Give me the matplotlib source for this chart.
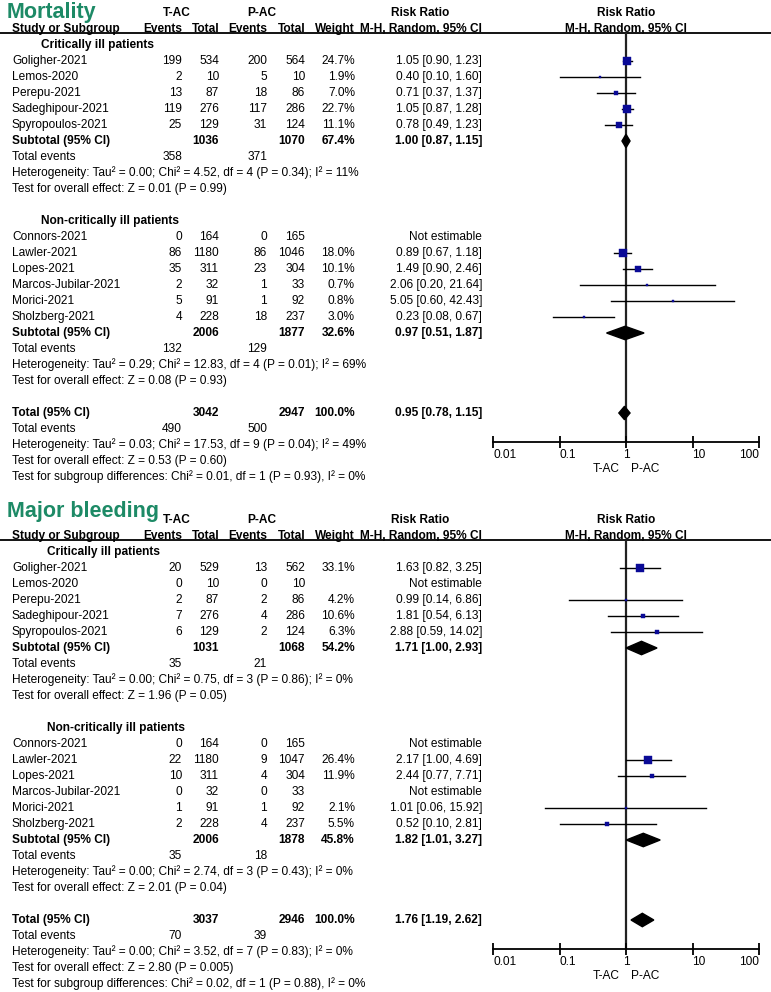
import matplotlib
matplotlib.use("Agg")
import matplotlib.pyplot as plt
from matplotlib.patches import Polygon

plt.rcParams['font.family'] = ['Liberation Sans', 'DejaVu Sans']

# ---------------- DATA ----------------
STUDIES_CRIT = ["Goligher-2021", "Lemos-2020", "Perepu-2021", "Sadeghipour-2021", "Spyropoulos-2021"]
STUDIES_NONCRIT = ["Connors-2021", "Lawler-2021", "Lopes-2021", "Marcos-Jubilar-2021", "Morici-2021", "Sholzberg-2021"]

# Mortality
MORT_TAC_EV = [199, 2, 13, 119, 25, 0, 86, 35, 2, 5, 4]
MORT_TAC_N = [534, 10, 87, 276, 129, 164, 1180, 311, 32, 91, 228]
MORT_PAC_EV = [200, 5, 18, 117, 31, 0, 86, 23, 1, 1, 18]
MORT_PAC_N = [564, 10, 86, 286, 124, 165, 1046, 304, 33, 92, 237]
MORT_WEIGHT = [24.7, 1.9, 7.0, 22.7, 11.1, None, 18.0, 10.1, 0.7, 0.8, 3.0]
MORT_RR = [1.05, 0.40, 0.71, 1.05, 0.78, None, 0.89, 1.49, 2.06, 5.05, 0.23]
MORT_LO = [0.90, 0.10, 0.37, 0.87, 0.49, None, 0.67, 0.90, 0.20, 0.60, 0.08]
MORT_HI = [1.23, 1.60, 1.37, 1.28, 1.23, None, 1.18, 2.46, 21.64, 42.43, 0.67]
# subgroup 1, subgroup 2, overall
MORT_SUM_TAC_N = [1036, 2006, 3042]
MORT_SUM_PAC_N = [1070, 1877, 2947]
MORT_SUM_W = [67.4, 32.6, 100.0]
MORT_SUM_RR = [1.00, 0.97, 0.95]
MORT_SUM_LO = [0.87, 0.51, 0.78]
MORT_SUM_HI = [1.15, 1.87, 1.15]
MORT_SUM_TAC_EV = [358, 132, 490]
MORT_SUM_PAC_EV = [371, 129, 500]
MORT_HET = ["Heterogeneity: Tau² = 0.00; Chi² = 4.52, df = 4 (P = 0.34); I² = 11%",
            "Heterogeneity: Tau² = 0.29; Chi² = 12.83, df = 4 (P = 0.01); I² = 69%",
            "Heterogeneity: Tau² = 0.03; Chi² = 17.53, df = 9 (P = 0.04); I² = 49%"]
MORT_TEST = ["Test for overall effect: Z = 0.01 (P = 0.99)",
             "Test for overall effect: Z = 0.08 (P = 0.93)",
             "Test for overall effect: Z = 0.53 (P = 0.60)"]
MORT_SUBDIFF = "Test for subgroup differences: Chi² = 0.01, df = 1 (P = 0.93), I² = 0%"

# Major bleeding
BLEED_TAC_EV = [20, 0, 2, 7, 6, 0, 22, 10, 0, 1, 2]
BLEED_TAC_N = [529, 10, 87, 276, 129, 164, 1180, 311, 32, 91, 228]
BLEED_PAC_EV = [13, 0, 2, 4, 2, 0, 9, 4, 0, 1, 4]
BLEED_PAC_N = [562, 10, 86, 286, 124, 165, 1047, 304, 33, 92, 237]
BLEED_WEIGHT = [33.1, None, 4.2, 10.6, 6.3, None, 26.4, 11.9, None, 2.1, 5.5]
BLEED_RR = [1.63, None, 0.99, 1.81, 2.88, None, 2.17, 2.44, None, 1.01, 0.52]
BLEED_LO = [0.82, None, 0.14, 0.54, 0.59, None, 1.00, 0.77, None, 0.06, 0.10]
BLEED_HI = [3.25, None, 6.86, 6.13, 14.02, None, 4.69, 7.71, None, 15.92, 2.81]
BLEED_SUM_TAC_N = [1031, 2006, 3037]
BLEED_SUM_PAC_N = [1068, 1878, 2946]
BLEED_SUM_W = [54.2, 45.8, 100.0]
BLEED_SUM_RR = [1.71, 1.82, 1.76]
BLEED_SUM_LO = [1.00, 1.01, 1.19]
BLEED_SUM_HI = [2.93, 3.27, 2.62]
BLEED_SUM_TAC_EV = [35, 35, 70]
BLEED_SUM_PAC_EV = [21, 18, 39]
BLEED_HET = ["Heterogeneity: Tau² = 0.00; Chi² = 0.75, df = 3 (P = 0.86); I² = 0%",
             "Heterogeneity: Tau² = 0.00; Chi² = 2.74, df = 3 (P = 0.43); I² = 0%",
             "Heterogeneity: Tau² = 0.00; Chi² = 3.52, df = 7 (P = 0.83); I² = 0%"]
BLEED_TEST = ["Test for overall effect: Z = 1.96 (P = 0.05)",
              "Test for overall effect: Z = 2.01 (P = 0.04)",
              "Test for overall effect: Z = 2.80 (P = 0.005)"]
BLEED_SUBDIFF = "Test for subgroup differences: Chi² = 0.02, df = 1 (P = 0.88), I² = 0%"

GROUPS = ["Critically ill patients", "Non-critically ill patients"]
TICKS = [0.01, 0.1, 1, 10, 100]
TICK_LABELS = ["0.01", "0.1", "1", "10", "100"]
TICK_HA = ["left", "left", "center", "left", "right"]

# ---------------- LAYOUT ----------------
W, H = 771, 992
FS = 8.6
ROW = 16.0
RA, RB = -3.9, 26.6
GREEN = '#1d8a66'
NAVY = '#0a0a96'
X_NAME, X_EV1, X_TOT1, X_EV2, X_TOT2, X_W, X_RR = 12, 182, 219, 267, 305, 355, 482
FX0, FX1 = 493, 759

fig = plt.figure(figsize=(W / 100, H / 100), dpi=100)


def fmt_ci(rr, lo, hi):
    return f"{rr:.2f} [{lo:.2f}, {hi:.2f}]"


def panel(y0, title, title_row, hdr_x, tac_ev, tac_n, pac_ev, pac_n, wt, rr, lo, hi,
          s_tac_n, s_pac_n, s_w, s_rr, s_lo, s_hi, s_tac_ev, s_pac_ev, het, test, subdiff):
    top_px = y0 + ROW * RA
    bot_px = y0 + ROW * RB
    ax = fig.add_axes([0, 1 - bot_px / H, 1, (bot_px - top_px) / H])
    ax.set_xlim(0, W)
    ax.set_ylim(RB, RA)
    ax.axis('off')

    def t(x, y, s, ha='left', bold=False, **kw):
        ax.text(x, y, s, ha=ha, va='center', fontsize=kw.pop('fs', FS),
                fontweight='bold' if bold else 'normal', **kw)

    # headers
    t(7, title_row, title, fs=15.5, bold=True, color=GREEN)
    t(177, -3, "T-AC", ha='center', bold=True)
    t(262, -3, "P-AC", ha='center', bold=True)
    t(420, -3, "Risk Ratio", ha='center', bold=True)
    t(626, -3, "Risk Ratio", ha='center', bold=True)
    t(X_NAME, -2, "Study or Subgroup", bold=True)
    t(X_EV1, -2, "Events", ha='right', bold=True)
    t(X_TOT1, -2, "Total", ha='right', bold=True)
    t(X_EV2, -2, "Events", ha='right', bold=True)
    t(X_TOT2, -2, "Total", ha='right', bold=True)
    t(X_W, -2, "Weight", ha='right', bold=True)
    t(X_RR, -2, "M-H, Random, 95% CI", ha='right', bold=True)
    t(626, -2, "M-H, Random, 95% CI", ha='center', bold=True)
    ax.plot([0, W], [-1.72, -1.72], color='black', lw=1.3, solid_capstyle='butt')

    # forest axes
    fb = y0 + ROW * 23.8
    ft = y0 + ROW * (-1.72)
    fax = fig.add_axes([FX0 / W, 1 - fb / H, (FX1 - FX0) / W, (fb - ft) / H])
    fax.set_xscale('log')
    fax.set_xlim(0.01, 100)
    fax.set_ylim(23.8, -1.72)
    fax.patch.set_visible(False)
    for s in ['top', 'left', 'right']:
        fax.spines[s].set_visible(False)
    fax.spines['bottom'].set_linewidth(1.3)
    fax.set_yticks([])
    fax.set_xticks(TICKS)
    fax.set_xticklabels(TICK_LABELS)
    for lab, ha in zip(fax.get_xticklabels(), TICK_HA):
        lab.set_horizontalalignment(ha)
    fax.minorticks_off()
    fax.tick_params(axis='x', direction='inout', length=8, width=1.3, labelsize=FS, pad=1)
    fax.axvline(1, color='#222222', lw=1.6, zorder=1)

    n1 = len(STUDIES_CRIT)
    groups = [(STUDIES_CRIT, 0, 0), (STUDIES_NONCRIT, n1, 11)]
    wmax = max(w for w in wt if w is not None)
    for gi, (names, off, r0) in enumerate(groups):
        t(hdr_x, r0 - 1, GROUPS[gi], bold=True)
        for j, name in enumerate(names):
            k = off + j
            r = r0 + j
            t(X_NAME, r, name)
            t(X_EV1, r, str(tac_ev[k]), ha='right')
            t(X_TOT1, r, str(tac_n[k]), ha='right')
            t(X_EV2, r, str(pac_ev[k]), ha='right')
            t(X_TOT2, r, str(pac_n[k]), ha='right')
            if wt[k] is None:
                t(X_RR, r, "Not estimable", ha='right')
            else:
                t(X_W, r, f"{wt[k]:.1f}%", ha='right')
                t(X_RR, r, fmt_ci(rr[k], lo[k], hi[k]), ha='right')
                fax.plot([lo[k], hi[k]], [r, r], color='black', lw=1.0, zorder=2)
                ms = max(8.0 * (wt[k] / wmax) ** 0.5 * 0.75, 1.6)
                fax.plot([rr[k]], [r], marker='s', ms=ms, color=NAVY, mec=NAVY,
                         mew=0.3, zorder=3, linestyle='none')
        rs = r0 + len(names)
        t(X_NAME, rs, "Subtotal (95% CI)", bold=True)
        t(X_TOT1, rs, str(s_tac_n[gi]), ha='right', bold=True)
        t(X_TOT2, rs, str(s_pac_n[gi]), ha='right', bold=True)
        t(X_W, rs, f"{s_w[gi]:.1f}%", ha='right', bold=True)
        t(X_RR, rs, fmt_ci(s_rr[gi], s_lo[gi], s_hi[gi]), ha='right', bold=True)
        fax.add_patch(Polygon([(s_lo[gi], rs), (s_rr[gi], rs - 0.42), (s_hi[gi], rs),
                               (s_rr[gi], rs + 0.42)], closed=True, color='black', zorder=3))
        t(X_NAME, rs + 1, "Total events")
        t(X_EV1, rs + 1, str(s_tac_ev[gi]), ha='right')
        t(X_EV2, rs + 1, str(s_pac_ev[gi]), ha='right')
        t(X_NAME, rs + 2, het[gi])
        t(X_NAME, rs + 3, test[gi])

    # overall
    ro = 22
    t(X_NAME, ro, "Total (95% CI)", bold=True)
    t(X_TOT1, ro, str(s_tac_n[2]), ha='right', bold=True)
    t(X_TOT2, ro, str(s_pac_n[2]), ha='right', bold=True)
    t(X_W, ro, f"{s_w[2]:.1f}%", ha='right', bold=True)
    t(X_RR, ro, fmt_ci(s_rr[2], s_lo[2], s_hi[2]), ha='right', bold=True)
    fax.add_patch(Polygon([(s_lo[2], ro), (s_rr[2], ro - 0.42), (s_hi[2], ro),
                           (s_rr[2], ro + 0.42)], closed=True, color='black', zorder=3))
    t(X_NAME, ro + 1, "Total events")
    t(X_EV1, ro + 1, str(s_tac_ev[2]), ha='right')
    t(X_EV2, ro + 1, str(s_pac_ev[2]), ha='right')
    t(X_NAME, ro + 2, het[2])
    t(X_NAME, ro + 3, test[2])
    t(X_NAME, ro + 4, subdiff)

    # favours labels
    t(620, 25.5, "T-AC", ha='right')
    t(631, 25.5, "P-AC", ha='left')


panel(61, "Mortality", -3.05, 41,
      MORT_TAC_EV, MORT_TAC_N, MORT_PAC_EV, MORT_PAC_N, MORT_WEIGHT, MORT_RR, MORT_LO, MORT_HI,
      MORT_SUM_TAC_N, MORT_SUM_PAC_N, MORT_SUM_W, MORT_SUM_RR, MORT_SUM_LO, MORT_SUM_HI,
      MORT_SUM_TAC_EV, MORT_SUM_PAC_EV, MORT_HET, MORT_TEST, MORT_SUBDIFF)

panel(568, "Major bleeding", -3.5, 47,
      BLEED_TAC_EV, BLEED_TAC_N, BLEED_PAC_EV, BLEED_PAC_N, BLEED_WEIGHT, BLEED_RR, BLEED_LO, BLEED_HI,
      BLEED_SUM_TAC_N, BLEED_SUM_PAC_N, BLEED_SUM_W, BLEED_SUM_RR, BLEED_SUM_LO, BLEED_SUM_HI,
      BLEED_SUM_TAC_EV, BLEED_SUM_PAC_EV, BLEED_HET, BLEED_TEST, BLEED_SUBDIFF)

fig.savefig("out.png", dpi=100)
